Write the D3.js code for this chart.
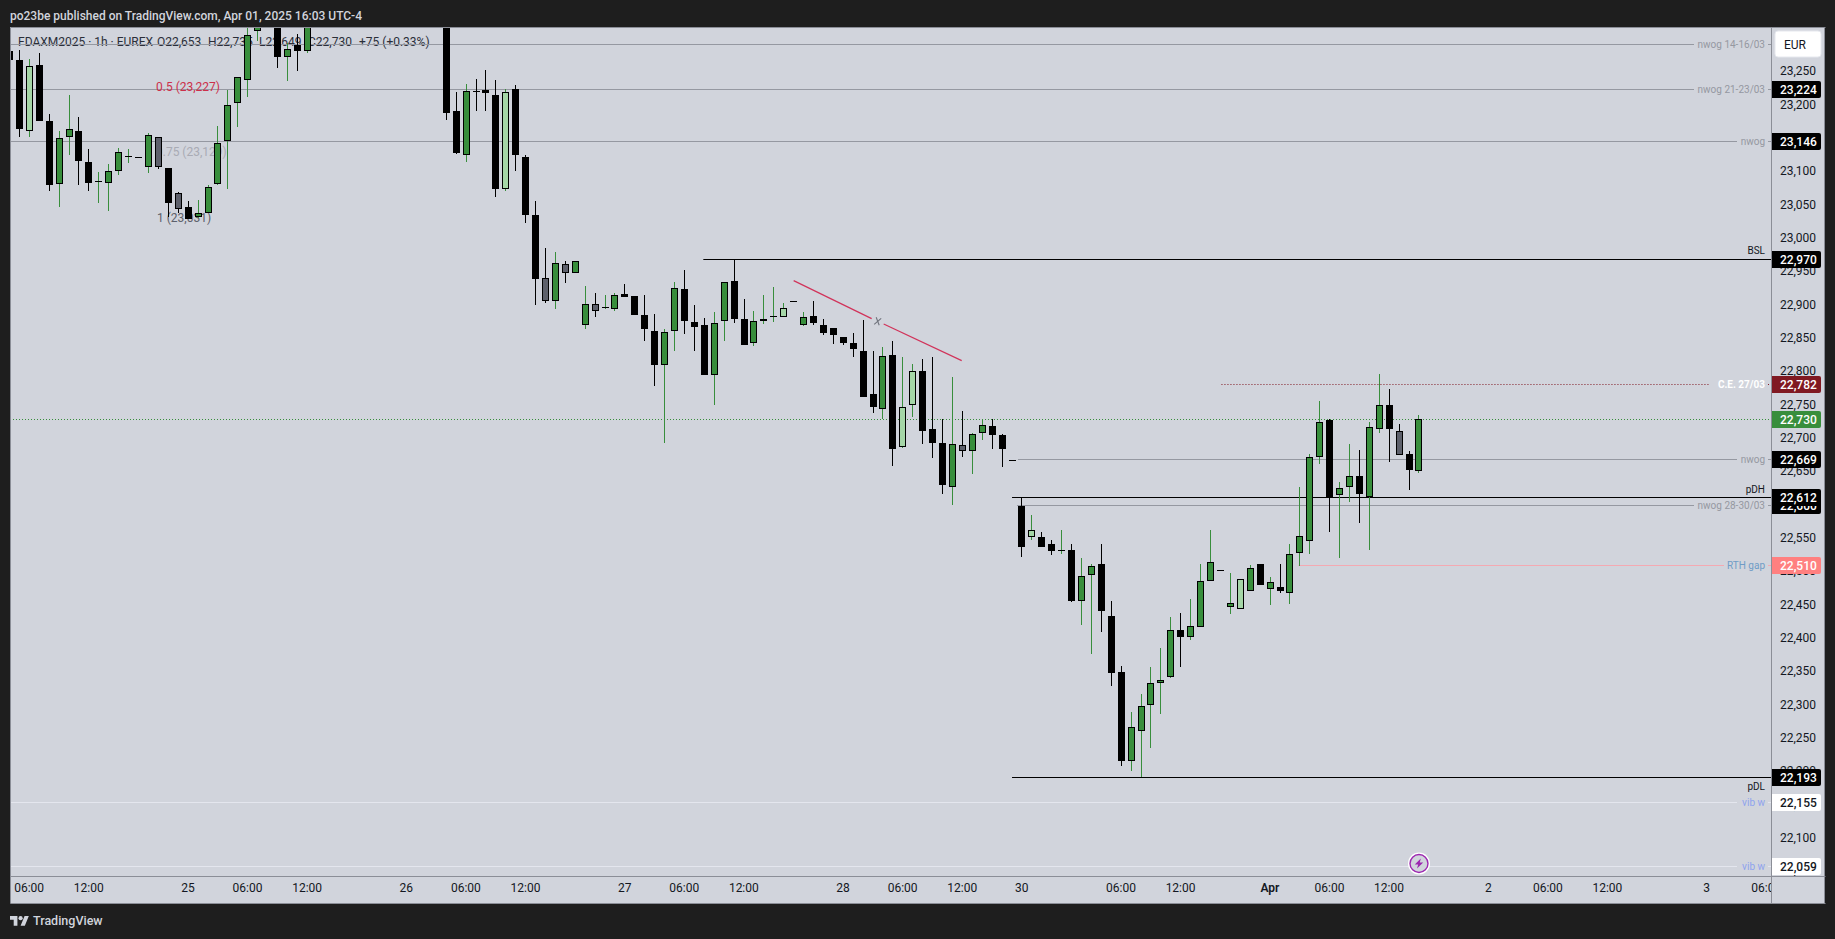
<!DOCTYPE html>
<html><head><meta charset="utf-8">
<script src="https://cdn.jsdelivr.net/npm/d3@7"></script>
<style>html,body{margin:0;padding:0;background:#1e1e1e;overflow:hidden}svg{display:block}text{font-family:Roboto,sans-serif}</style>
</head><body><svg id="c" width="1835" height="939"></svg>
<script>
// trading-hour slot of each candle (slots above the visible range are simply not listed)
const slots = [0,1,2,3,4,5,6,7,8,9, 10,11,12,13,14,15,16,17,18,19, 20,21,22,23,24,25,27,28,29,30,
 44,45,46,47,48,49, 50,51,52,53,54,55,56,57,58,59, 60,61,62,63,64,65,66,67,68,69,
 70,71,72,73,74,75,76,77,78,79, 80,81,82,83,84,85,86,87,88,89, 90,91,92,93,94,95,96,97,98,99,
 100,101,102,103,104,105,106,107,108,109, 110,111,112,113,114,115,116,117,118,119,
 120,121,122,123,124,125,126,127,128,129, 130,131,132,133,134,135,136,137,138,139, 140,141,142];
const opens = [23282,23269,23162,23262,23178,23083,23153,23163,23116,23087, 23085,23102,23125,23124,23108,23153,23107,23069,23048,23033, 23039,23083,23147,23204,23239,23312,23345,23274,23291,23282,
 23360,23193,23126,23222,23224,23217, 23075,23226,23124,23037,22942,22908,22963,22949,22871,22903, 22898,22895,22918,22915,22886,22862,22812,22862,22925,22876,
 22871,22797,22877,22937,22880,22844,22877,22883,22884,22907, 22872,22885,22871,22867,22853,22844,22832,22768,22746,22826, 22689,22751,22803,22715,22694,22629,22691,22683,22710,22720,
 22706,22669,22600,22554,22553,22543,22534,22534,22458,22497, 22513,22435,22351,22218,22263,22302,22335,22343,22414,22403,
 22419,22488,22504,22448,22445,22473,22513,22475,22479,22470, 22530,22548,22674,22729,22617,22629,22645,22614,22716,22752, 22712,22678,22653];
const highs = [23282,23284,23270,23279,23188,23163,23217,23183,23136,23101, 23113,23137,23136,23124,23159,23154,23107,23071,23058,23059, 23082,23170,23224,23244,23324,23350,23355,23294,23308,23345,
 23370,23221,23233,23241,23254,23239, 23225,23232,23127,23058,22987,22981,22968,22967,22930,22920, 22917,22919,22933,22915,22917,22888,22866,22936,22954,22902,
 22882,22891,22936,22970,22911,22893,22917,22929,22905,22907, 22891,22908,22881,22867,22854,22860,22879,22833,22839,22848, 22824,22813,22821,22824,22731,22794,22743,22710,22731,22731,
 22708,22669,22612,22587,22561,22549,22564,22543,22522,22513, 22543,22458,22360,22291,22318,22359,22387,22434,22440,22461,
 22513,22564,22504,22500,22490,22512,22513,22494,22513,22543, 22629,22678,22758,22730,22636,22693,22684,22726,22798,22776, 22723,22683,22737];
const lows = [23269,23154,23154,23177,23072,23049,23127,23081,23073,23055, 23043,23097,23114,23124,23100,23106,23034,23039,23030,23032, 23039,23082,23076,23168,23214,23297,23257,23238,23253,23279,
 23179,23128,23116,23193,23193,23064, 23073,23103,23025,22902,22905,22896,22935,22949,22866,22884, 22896,22893,22913,22886,22848,22780,22695,22833,22858,22833,
 22796,22752,22848,22875,22842,22840,22873,22876,22884,22907, 22870,22872,22857,22843,22842,22824,22764,22740,22731,22660, 22687,22734,22693,22672,22618,22602,22674,22648,22699,22686,
 22659,22669,22524,22549,22539,22527,22528,22456,22422,22378, 22411,22330,22210,22203,22193,22237,22288,22342,22359,22399,
 22419,22488,22504,22438,22445,22473,22482,22452,22470,22453, 22510,22528,22663,22561,22522,22606,22575,22534,22710,22666, 22677,22624,22650];
const closes = [23269,23166,23260,23177,23081,23152,23165,23117,23085,23087, 23102,23131,23125,23124,23156,23108,23054,23045,23031,23039, 23078,23144,23201,23243,23306,23335,23274,23285,23282,23335,
 23189,23130,23222,23222,23219,23076, 23221,23126,23036,22940,22907,22964,22949,22967,22903,22892, 22898,22916,22914,22886,22866,22811,22861,22927,22877,22868,
 22796,22874,22936,22880,22842,22877,22880,22885,22897,22907, 22883,22874,22859,22856,22844,22835,22764,22748,22825,22686, 22748,22802,22713,22695,22631,22693,22683,22708,22721,22706,
 22685,22669,22539,22564,22539,22533,22534,22458,22495,22510, 22443,22350,22217,22268,22300,22334,22339,22414,22404,22420,
 22487,22516,22504,22454,22490,22507,22482,22486,22473,22528, 22555,22673,22726,22614,22627,22645,22618,22718,22751,22716, 22677,22654,22730];
const kinds = ["b","b","l","b","b","g","g","b","b","g", "g","g","g","b","g","s","b","s","b","g", "g","g","g","g","g","g","b","g","b","g",
 "b","b","g","b","b","b", "l","b","b","b","s","g","s","g","g","s", "g","g","b","b","b","b","g","g","b","b",
 "b","g","g","b","b","g","g","g","l","b", "g","b","b","b","b","b","b","b","g","b", "l","l","b","b","b","g","s","g","g","b",
 "b","b","b","l","b","b","g","b","g","g", "b","b","b","g","g","g","g","g","b","g",
 "g","g","b","g","l","g","b","g","b","g", "g","g","g","b","g","g","b","g","g","b", "s","b","g"];

const priceTicks = [22050,22100,22150,22200,22250,22300,22350,22400,22450,22500,22550,22600,22650,22700,22750,22800,22850,22900,22950,23000,23050,23100,23150,23200,23250,23300];
const timeSlots  = [2,8,18,24,30,40,46,52,62,68,74,84,90,96,102,112,118,127,133,139,149,155,161,171,177];
const timeLabels = ["06:00","12:00","25","06:00","12:00","26","06:00","12:00","27","06:00","12:00","28","06:00","12:00","30","06:00","12:00","Apr","06:00","12:00","2","06:00","12:00","3","06:00"];

// header legend pieces
const legendTexts = ["FDAXM2025 · 1h · EUREX","O22,653","H22,735","L22,649","C22,730","+75 (+0.33%)"];
const legendLefts = [18,157,208,259,308,359];

// horizontal levels
const rayNames  = ["nwog 14-16/03","nwog 21-23/03","nwog","BSL","C.E. 27/03","nwog","pDH","nwog 28-30/03","RTH gap","pDL","vib w","vib w"];
const rayPrices = [23292,23224,23146,22970,22782,22669,22612,22600,22510,22193,22155,22059];
const rayStarts = [0,0,0,69.9,122.1,101.6,101,101.5,129.85,101,0,0];
const rayEnds   = [1694,1694,1737,1771,1710,1737,1771,1694,1724,1771,1737,1737];
const rayColors = ["#9598a1","#9598a1","#9598a1","#000000","#801922","#9598a1","#000000","#9598a1","#f4a9b2","#000000","#e4e6ee","#e4e6ee"];
const rayDash   = ["","","","","1 2","","","","","","",""];
const rayText   = ["#9598a1","#9598a1","#9598a1","#131722","#ffffff","#9598a1","#131722","#9598a1","#6f9cc6","#131722","#8fa3ee","#8fa3ee"];
const rayTextDy = [0,0,0,-9,0,0,-8,0,0,8.5,0,0];

const tagPrices = [23224,23146,22970,22782,22730,22669,22600,22612,22510,22193,22155,22059];
const tagFills  = ["#000","#000","#000","#801922","#388e3c","#000","#000","#000","#ff8080","#000","#fff","#fff"];
const tagInk    = ["#fff","#fff","#fff","#fff","#fff","#fff","#fff","#fff","#fff","#fff","#131722","#131722"];

const fibLabels = ["0.5 (23,227)","0.75 (23,129)","1 (23,031)"];
const fibPrices = [23227,23129,23031];
const fibColors = ["#cc2f4a","#a9abb4","#5d606b"];
const fibLeft   = [156,156,157];

const trendSlots  = [79,86.86,88.07,95.93];
const trendPrices = [22938,22881,22873,22818];

const svg = d3.select("#c");
const x = d3.scaleLinear().domain([0,177]).range([9.5,9.5+177*9.926]);
const y = d3.scaleLinear().domain([22970,22193]).range([259.3,777.3]);
const py = p => Math.floor(y(p))+0.5;
const px = s => Math.floor(x(s));
const T = {left:10,top:27,right:1771,bottom:876,outerR:1825,outerB:903};
const fmt = d3.format(",");

const defs = svg.append("defs");
defs.append("clipPath").attr("id","plot").append("rect").attr("x",T.left+1).attr("y",T.top).attr("width",T.right-T.left-1).attr("height",T.bottom-T.top);
defs.append("clipPath").attr("id","pax").append("rect").attr("x",T.right+1).attr("y",T.top).attr("width",T.outerR-T.right-1).attr("height",T.bottom-T.top);
defs.append("clipPath").attr("id","tax").append("rect").attr("x",T.left+1).attr("y",T.bottom).attr("width",T.right-T.left-1).attr("height",T.outerB-T.bottom);

svg.append("rect").attr("width",1835).attr("height",939).attr("fill","#1e1e1e");
svg.append("rect").attr("x",T.left).attr("y",T.top).attr("width",T.outerR-T.left).attr("height",T.outerB-T.top).attr("fill","#d1d4dc");

// title
svg.append("text").attr("x",10).attr("y",19.5).attr("fill","#d1d4dc").attr("font-size",12).attr("font-weight",500).text("po23be published on TradingView.com, Apr 01, 2025 16:03 UTC-4");

const plot = svg.append("g").attr("clip-path","url(#plot)");

// legend and fib labels lie under the candles
plot.selectAll("text.lg").data(legendTexts).join("text").attr("class","lg")
  .attr("x",(d,i)=>legendLefts[i]).attr("y",46).attr("fill","#2a2e39").attr("font-size",12).text(d=>d);

// levels
const rays = rayNames.map((n,i)=>i);
plot.selectAll("line.ray").data(rays).join("line").attr("class","ray")
  .attr("x1",i=>rayStarts[i]?x(rayStarts[i]):T.left).attr("x2",i=>rayEnds[i])
  .attr("y1",i=>py(rayPrices[i])).attr("y2",i=>py(rayPrices[i]))
  .attr("stroke",i=>rayColors[i]).attr("stroke-dasharray",i=>rayDash[i]||null);
// the small stub between label and scale
plot.selectAll("line.stub").data(rays.filter(i=>rayEnds[i]<T.right)).join("line").attr("class","stub")
  .attr("x1",1768).attr("x2",T.right).attr("y1",i=>py(rayPrices[i])).attr("y2",i=>py(rayPrices[i]))
  .attr("stroke",i=>rayColors[i]).attr("stroke-dasharray",i=>rayDash[i]||null);
plot.selectAll("text.ray").data(rays).join("text").attr("class","ray")
  .attr("x",1765).attr("y",i=>py(rayPrices[i])+3.5+rayTextDy[i]).attr("text-anchor","end")
  .attr("font-size",10).attr("fill",i=>rayText[i]).attr("font-weight",i=>rayNames[i].startsWith("C.E")?700:400)
  .text(i=>rayNames[i]);
// green last-price line
plot.append("line").attr("x1",T.left).attr("x2",T.right).attr("y1",py(22730)).attr("y2",py(22730)).attr("stroke","#388e3c").attr("stroke-dasharray","1 2");

plot.selectAll("text.fib").data(fibLabels).join("text").attr("class","fib")
  .attr("x",(d,i)=>fibLeft[i]).attr("y",(d,i)=>y(fibPrices[i])+3).attr("font-size",12)
  .attr("fill",(d,i)=>fibColors[i]).text(d=>d);

// trend line with its gap around the cross
const tl = d3.line().x(d=>x(d[0])).y(d=>y(d[1]));
[[0,1],[2,3]].forEach(([a,b])=>{
  plot.append("path").attr("d",tl([[trendSlots[a],trendPrices[a]],[trendSlots[b],trendPrices[b]]])).attr("stroke","#d1335a").attr("stroke-width",1.2).attr("fill","none");
});
const cross = plot.append("g").attr("transform",`translate(${(x(trendSlots[1])+x(trendSlots[2]))/2},${(y(trendPrices[1])+y(trendPrices[2]))/2})`).attr("stroke","#6f727c").attr("stroke-width",1.1);
cross.append("line").attr("x1",-3.5).attr("y1",3).attr("x2",3.5).attr("y2",-3);
cross.append("line").attr("x1",-1.5).attr("y1",-4).attr("x2",1.5).attr("y2",4);

// candles
const fills = {g:"#388e3c",b:"#000000",l:"#a5d6a7",s:"#5d606b"};
const wicks = {g:"#388e3c",b:"#000000",l:"#388e3c",s:"#000000"};
const idx = slots.map((s,i)=>i);
const cg = plot.append("g");
cg.selectAll("rect.w").data(idx).join("rect").attr("class","w")
  .attr("x",i=>px(slots[i])).attr("width",1)
  .attr("y",i=>Math.round(y(highs[i]))).attr("height",i=>Math.max(0,Math.round(y(lows[i]))-Math.round(y(highs[i]))))
  .attr("fill",i=>wicks[kinds[i]]);
const topY = i=>Math.round(y(Math.max(opens[i],closes[i])));
const botY = i=>Math.round(y(Math.min(opens[i],closes[i])));
cg.selectAll("rect.o").data(idx).join("rect").attr("class","o")
  .attr("x",i=>px(slots[i])-3).attr("width",7)
  .attr("y",topY).attr("height",i=>Math.max(1,botY(i)-topY(i)))
  .attr("fill","#000");
cg.selectAll("rect.f").data(idx.filter(i=>kinds[i]!=="b"&&botY(i)-topY(i)>2)).join("rect").attr("class","f")
  .attr("x",i=>px(slots[i])-2).attr("width",5)
  .attr("y",i=>topY(i)+1).attr("height",i=>botY(i)-topY(i)-2)
  .attr("fill",i=>fills[kinds[i]]);

// lightning marker
const bolt = svg.append("g").attr("transform",`translate(${x(142)},863.5)`);
bolt.append("circle").attr("r",11).attr("fill","#ffffff");
bolt.append("circle").attr("r",9).attr("fill","#d1d4dc").attr("stroke","#9c27b0").attr("stroke-width",1.4);
bolt.append("path").attr("d","M1.8,-5 L-4.2,1 L-0.8,1 L-2,5 L4.2,-1 L0.8,-1 Z").attr("fill","#9c27b0");

// frame
const frame = "#8b8e97";
[[T.left,T.top,T.left,T.outerB],[T.left,T.top,T.outerR,T.top],[T.left,T.bottom,T.outerR,T.bottom],[T.left,T.outerB,T.outerR,T.outerB],[T.right,T.top,T.right,T.outerB],[T.outerR-1,T.top,T.outerR-1,T.outerB]].forEach(l=>{
  svg.append("line").attr("x1",l[0]+.5).attr("y1",l[1]+.5).attr("x2",l[2]+.5).attr("y2",l[3]+.5).attr("stroke",frame);
});

// price axis
const pa = svg.append("g").attr("clip-path","url(#pax)");
const pAxis = pa.append("g").attr("transform",`translate(${T.right},-1.5)`).call(d3.axisRight(y).tickValues(priceTicks).tickSize(0).tickPadding(9).tickFormat(fmt));
pAxis.select(".domain").remove();
pAxis.selectAll("text").attr("font-family","Roboto,sans-serif").attr("font-size",12).attr("fill","#131722");

tagPrices.forEach((p,i)=>{
  const cy = py(p);
  pa.append("path").attr("d",`M${T.right+1},${cy-8.5}h47a2,2 0 0 1 2,2v13a2,2 0 0 1 -2,2h-47z`).attr("fill",tagFills[i]);
  pa.append("text").attr("x",T.right+9).attr("y",cy+4).attr("font-size",12).attr("font-weight",500).attr("fill",tagInk[i]).text(fmt(p));
});
svg.append("rect").attr("x",1775).attr("y",31).attr("width",46).attr("height",26).attr("rx",3).attr("fill","#fff").attr("stroke","#e6e8ee");
svg.append("text").attr("x",1784).attr("y",49).attr("font-size",12).attr("fill","#131722").text("EUR");

// time axis
const ta = svg.append("g").attr("clip-path","url(#tax)");
const tAxis = ta.append("g").attr("transform",`translate(-0.7,${T.bottom})`).call(d3.axisBottom(x).tickValues(timeSlots).tickSize(0).tickPadding(7).tickFormat((d,i)=>timeLabels[i]));
tAxis.select(".domain").remove();
tAxis.selectAll("text").attr("font-family","Roboto,sans-serif").attr("font-size",12).attr("fill","#131722")
  .attr("font-weight",(d,i)=>timeLabels[i]==="Apr"?600:400);

// footer logo
const logo = svg.append("g").attr("transform","translate(10,914) scale(0.53)").attr("fill","#d1d4dc");
logo.append("path").attr("d","M14 22H7V11H0V4h14v18zM28 22h-8l7.5-18h8L28 22z");
logo.append("circle").attr("cx",20).attr("cy",8).attr("r",4);
svg.append("text").attr("x",33).attr("y",925).attr("font-size",12.5).attr("font-weight",500).attr("fill","#d1d4dc").text("TradingView");
</script></body></html>
